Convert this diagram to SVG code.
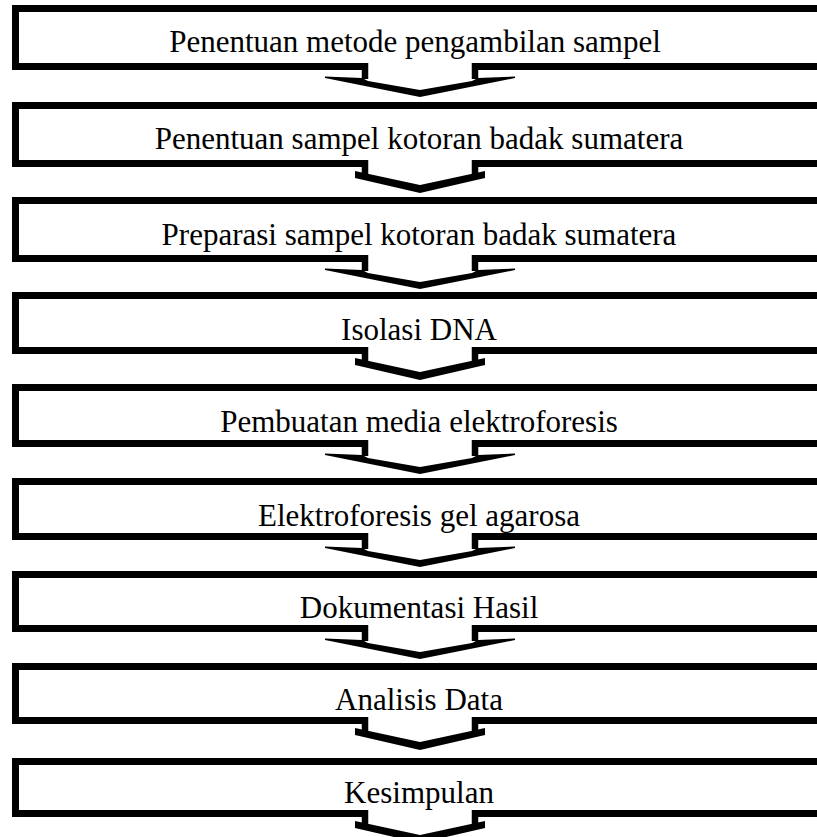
<svg xmlns="http://www.w3.org/2000/svg" width="817" height="837" viewBox="0 0 817 837">
<style>
.box{fill:none;stroke:#000;stroke-width:7;stroke-linejoin:miter}
.chev{fill:#000;stroke:none}
.lbl{font-family:"Liberation Serif","Times New Roman",serif;font-size:31px;fill:#000;text-anchor:middle}
</style>
<rect width="817" height="837" fill="#fff"/>
<defs>
<g id="wide">
<path d="M365 0V16 M475 0V16" stroke="#000" stroke-width="6.5" fill="none"/>
<polygon points="325,13.5 362,15 368,18 420,27 472,18 478,15 515,13.5 515,15 420,34 325,15"/>
</g>
<g id="narrow">
<path d="M365 0V16 M475 0V16" stroke="#000" stroke-width="6.5" fill="none"/>
<polygon points="355,11 420,25 485,11 485,18 420,33 355,18"/>
</g>
</defs>
<g id="n1"><path class="box" d="M830 8.5H15.5V66.5H368M472 66.5H830"/><text class="lbl" x="415" y="52">Penentuan metode pengambilan sampel</text></g>
<g id="n2"><path class="box" d="M830 105.5H15.5V163.5H368M472 163.5H830"/><text class="lbl" x="419" y="149">Penentuan sampel kotoran badak sumatera</text></g>
<g id="n3"><path class="box" d="M830 200.5H15.5V258.5H368M472 258.5H830"/><text class="lbl" x="419" y="245">Preparasi sampel kotoran badak sumatera</text></g>
<g id="n4"><path class="box" d="M830 295.5H15.5V350.5H368M472 350.5H830"/><text class="lbl" x="419" y="340">Isolasi DNA</text></g>
<g id="n5"><path class="box" d="M830 387.5H15.5V443.5H368M472 443.5H830"/><text class="lbl" x="419" y="432">Pembuatan media elektroforesis</text></g>
<g id="n6"><path class="box" d="M830 481.5H15.5V536.5H368M472 536.5H830"/><text class="lbl" x="419" y="526">Elektroforesis gel agarosa</text></g>
<g id="n7"><path class="box" d="M830 574.5H15.5V628.5H368M472 628.5H830"/><text class="lbl" x="419" y="618">Dokumentasi Hasil</text></g>
<g id="n8"><path class="box" d="M830 666.5H15.5V720.5H368M472 720.5H830"/><text class="lbl" x="419" y="710">Analisis Data</text></g>
<g id="n9"><path class="box" d="M830 761.5H15.5V813.5H368M472 813.5H830"/><text class="lbl" x="419" y="803">Kesimpulan</text></g>
<g id="connectors">
<use href="#wide" y="63"/>
<use href="#narrow" y="160"/>
<use href="#wide" y="255"/>
<use href="#narrow" y="347"/>
<use href="#wide" y="440"/>
<use href="#wide" y="533"/>
<use href="#wide" y="625"/>
<use href="#narrow" y="717"/>
<use href="#narrow" y="810"/>
</g>
</svg>
